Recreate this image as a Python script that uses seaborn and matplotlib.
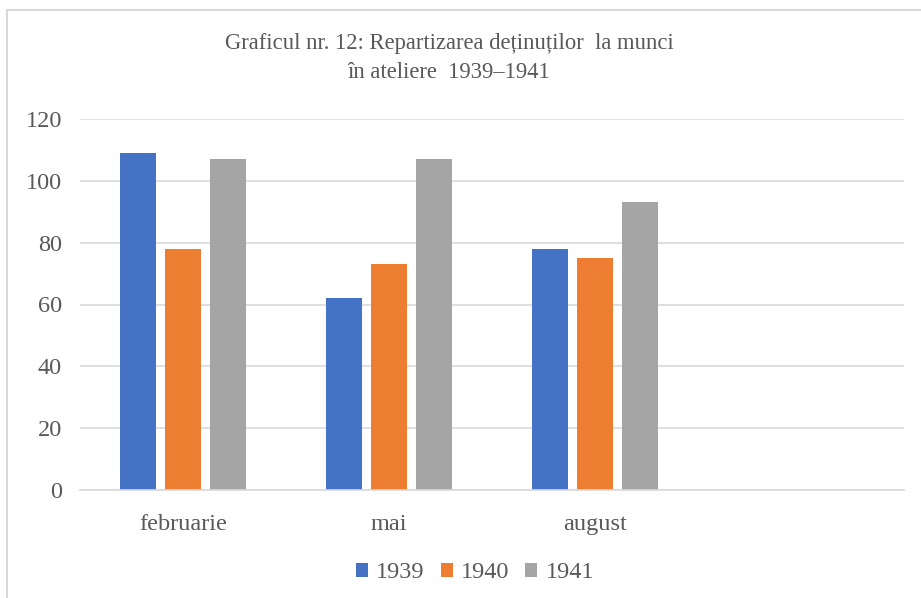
import matplotlib
matplotlib.use("Agg")
import matplotlib.pyplot as plt
import seaborn as sns
import pandas as pd
from matplotlib.patches import Rectangle, Patch

months = ["februarie", "mai", "august"]
years = ["1939", "1940", "1941"]
v1939 = [109, 62, 78]
v1940 = [78, 73, 75]
v1941 = [107, 107, 93]
colors = ["#4472C4", "#ED7D31", "#A5A5A5"]
title = "Graficul nr. 12: Repartizarea deținuților  la munci\nîn ateliere  1939–1941"

rows = []
for y, vals in zip(years, [v1939, v1940, v1941]):
    for m, v in zip(months, vals):
        rows.append({"luna": m, "an": y, "val": v})
df = pd.DataFrame(rows)

sns.set_theme(style="white")
plt.rcParams["font.family"] = ["Liberation Serif", "DejaVu Serif"]
txt = "#595959"
grid = "#D9D9D9"

W, H = 921, 598
fig = plt.figure(figsize=(W / 100, H / 100), dpi=100)
ax = fig.add_axes([80 / W, 1 - 490 / H, (904 - 80) / W, (490 - 119) / H])

sns.barplot(data=df, x="luna", y="val", hue="an", order=months, hue_order=years,
            palette=colors, width=0.655, gap=0.2, ax=ax, legend=False,
            linewidth=0, saturation=1)

ax.set_xlim(-0.5, 3.5)
ax.set_ylim(0, 120)
ax.set_yticks(range(0, 121, 20))
ax.yaxis.grid(True, color=grid, linewidth=1.2)
ax.set_axisbelow(True)
for s in ["top", "right", "left"]:
    ax.spines[s].set_visible(False)
ax.spines["bottom"].set_color(grid)
ax.spines["bottom"].set_linewidth(1.2)
ax.set_xlabel("")
ax.set_ylabel("")
ax.tick_params(axis="y", length=0, pad=13, labelsize=17.5, labelcolor=txt)
ax.tick_params(axis="x", length=0, pad=17, labelsize=17.5, labelcolor=txt)

fig.text(449 / W, 1 - 58 / H, title, ha="center", va="center", fontsize=16.3,
         color=txt, linespacing=1.45)

handles = [Patch(facecolor=c, edgecolor="none") for c in colors]
fig.legend(handles, years, loc="center", bbox_to_anchor=(475 / W, 1 - 573 / H),
           ncol=3, frameon=False, fontsize=17.5, labelcolor=txt,
           handlelength=0.5, handleheight=0.5, handletextpad=0.34,
           columnspacing=0.65)

fig.patches.append(Rectangle((7 / W, -0.1), 2, 1 - 10.5 / H + 0.1,
                             transform=fig.transFigure, fill=False,
                             edgecolor=grid, linewidth=1.5))

fig.savefig("out.png", dpi=100)
